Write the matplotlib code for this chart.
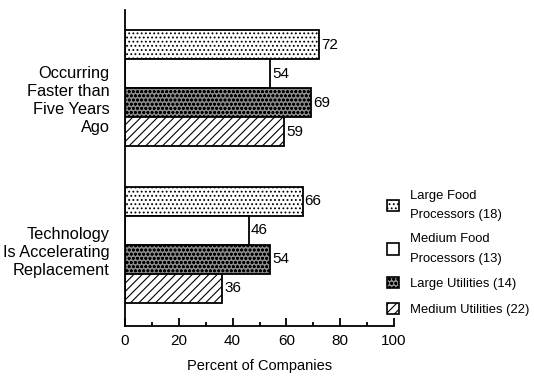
import matplotlib.pyplot as plt
from matplotlib.patches import Patch
from matplotlib.ticker import MultipleLocator

plt.rcParams["font.family"] = ["Liberation Sans", "DejaVu Sans"]
plt.rcParams["font.size"] = 10.5
plt.rcParams["hatch.linewidth"] = 0.8

categories = ["Occurring\nFaster than\nFive Years\nAgo", "Technology\nIs Accelerating\nReplacement"]
series = ["Large Food\nProcessors (18)", "Medium Food\nProcessors (13)",
          "Large Utilities (14)", "Medium Utilities (22)"]
values = [
    [72, 66],   # Large Food Processors
    [54, 46],   # Medium Food Processors
    [69, 54],   # Large Utilities
    [59, 36],   # Medium Utilities
]

# one style per series: face colour, hatch
styles = [
    ("white", "...."),
    ("white", ""),
    ("#8a8a8a", "oooo"),
    ("white", "////"),
]

group_top = [9.7, 4.3]   # centre of first bar in each group
label_shift = [-0.33, -0.17]
bar_h = 1.0

fig = plt.figure(figsize=(5.34, 3.79), dpi=100)
ax = fig.add_axes([0.234, 0.14, 0.504, 0.834])

for s, vals in enumerate(values):
    face, hatch = styles[s]
    ys = [g - s * bar_h for g in group_top]
    ax.barh(ys, vals, height=bar_h, color=face, edgecolor="black",
            hatch=hatch, linewidth=1.3)
    for y, v in zip(ys, vals):
        ax.text(v + 0.8, y, str(v), va="center", ha="left", fontsize=11)

ax.set_xlim(0, 100)
ax.set_ylim(0, 10.9)
ax.set_yticks([g - 1.5 * bar_h + d for g, d in zip(group_top, label_shift)])
ax.set_yticklabels(categories, ha="right", multialignment="right", fontsize=11.8,
                   linespacing=1.25)
ax.tick_params(axis="y", length=0, pad=11)

ax.xaxis.set_major_locator(MultipleLocator(20))
ax.xaxis.set_minor_locator(MultipleLocator(10))
ax.tick_params(axis="x", which="major", direction="in", length=6, width=1.3,
               labelsize=11, pad=6)
ax.tick_params(axis="x", which="minor", direction="in", length=3, width=1.3)
ax.set_xlabel("Percent of Companies", fontsize=10.5, labelpad=8)

for side in ("top", "right"):
    ax.spines[side].set_visible(False)
for side in ("left", "bottom"):
    ax.spines[side].set_linewidth(1.3)

handles = [Patch(facecolor=f, edgecolor="black", hatch=h, linewidth=1.2)
           for f, h in styles]
leg = fig.legend(handles, series, loc="upper left", bbox_to_anchor=(0.702, 0.53),
                 frameon=False, fontsize=9.4, handlelength=0.95, handleheight=0.95,
                 handletextpad=0.85, labelspacing=0.95)
for t in leg.get_texts():
    t.set_linespacing(1.8)

fig.savefig("out.png", dpi=100)
